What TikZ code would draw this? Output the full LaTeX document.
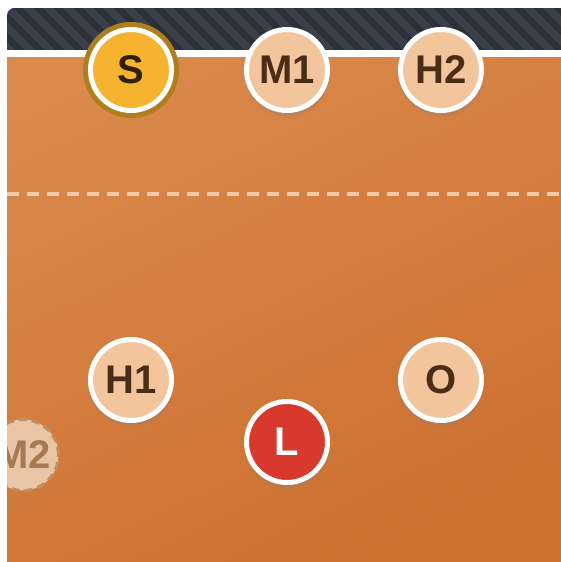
\documentclass[tikz,border=0pt]{standalone}
\usepackage{fontspec}
\setmainfont{Liberation Sans}
\usepackage{xcolor}
\usetikzlibrary{shadows}

\definecolor{courttop}{HTML}{DA8A4C}
\definecolor{courtbot}{HTML}{CC6F2F}
\definecolor{netdark}{HTML}{2B2F38}
\definecolor{netlight}{HTML}{3A3F4A}
\definecolor{peach}{HTML}{F2C59C}
\definecolor{ink}{HTML}{4A2C17}
\definecolor{setterfill}{HTML}{F5B32F}
\definecolor{setterring}{HTML}{B07F1D}
\definecolor{setterink}{HTML}{2E1F05}
\definecolor{liberofill}{HTML}{D9382C}
\definecolor{ghostfill}{HTML}{E9C5A6}
\definecolor{ghostline}{HTML}{BF8E64}
\definecolor{ghostink}{HTML}{A87A52}
\definecolor{attackline}{HTML}{F0CAA9}

\begin{document}
\begin{tikzpicture}[
    x=1pt, y=-1pt,
    font=\bfseries\fontsize{40}{40}\selectfont,
    player/.style={circle, minimum size=81pt, inner sep=0pt,
                   fill=peach, draw=white, line width=5pt, text=ink,
                   circular drop shadow={shadow xshift=0pt, shadow yshift=-4pt,
                                         shadow scale=1.08, opacity=.45}},
    setter/.style={player, fill=setterfill, text=setterink,
                   preaction={draw=setterring, line width=15pt}},
    libero/.style={player, fill=liberofill, text=white},
    ghost/.style={circle, minimum size=71pt, inner sep=0pt,
                  fill=ghostfill, draw=ghostline, line width=3pt,
                  dash pattern=on 8pt off 5pt, text=ghostink},
]
\useasboundingbox (0,0) rectangle (561,562);
\fill[white] (0,0) rectangle (561,562);

\begin{scope}
  \clip[rounded corners=8pt] (7,8) rectangle (580,580);

  % --- court floor ---
  \shade[top color=courttop, bottom color=courtbot, shading angle=25]
    (7,8) rectangle (580,580);

  % --- net band with stripes ---
  \fill[netdark] (7,8) rectangle (580,52);
  \begin{scope}
    \clip (7,8) rectangle (580,52);
    \foreach \i in {-4,...,30}
      \draw[netlight, line width=7.5pt] (\i*20,0) -- ++(70,70);
  \end{scope}
  \fill[white] (7,50) rectangle (580,57);

  % --- attack line ---
  \coordinate (lineL) at (7,194);
  \coordinate (lineR) at (580,194);
  \draw[attackline, line width=4.5pt, dash pattern=on 12pt off 8pt]
    (lineL) -- (lineR);

  % --- front row ---
  \node[setter] (S)  at (131,70)  {S};
  \node[player] (M1) at (287,70)  {M1};
  \node[player] (H2) at (441,70)  {H2};

  % --- back row ---
  \node[player] (H1) at (131,380) {H1};
  \node[player] (O)  at (441,380) {O};
  \node[libero] (L)  at (287,442) {L};

  % --- substituted middle (off court) ---
  \node[ghost]  (M2) at (23,455)  {M2};
\end{scope}
\end{tikzpicture}
\end{document}
